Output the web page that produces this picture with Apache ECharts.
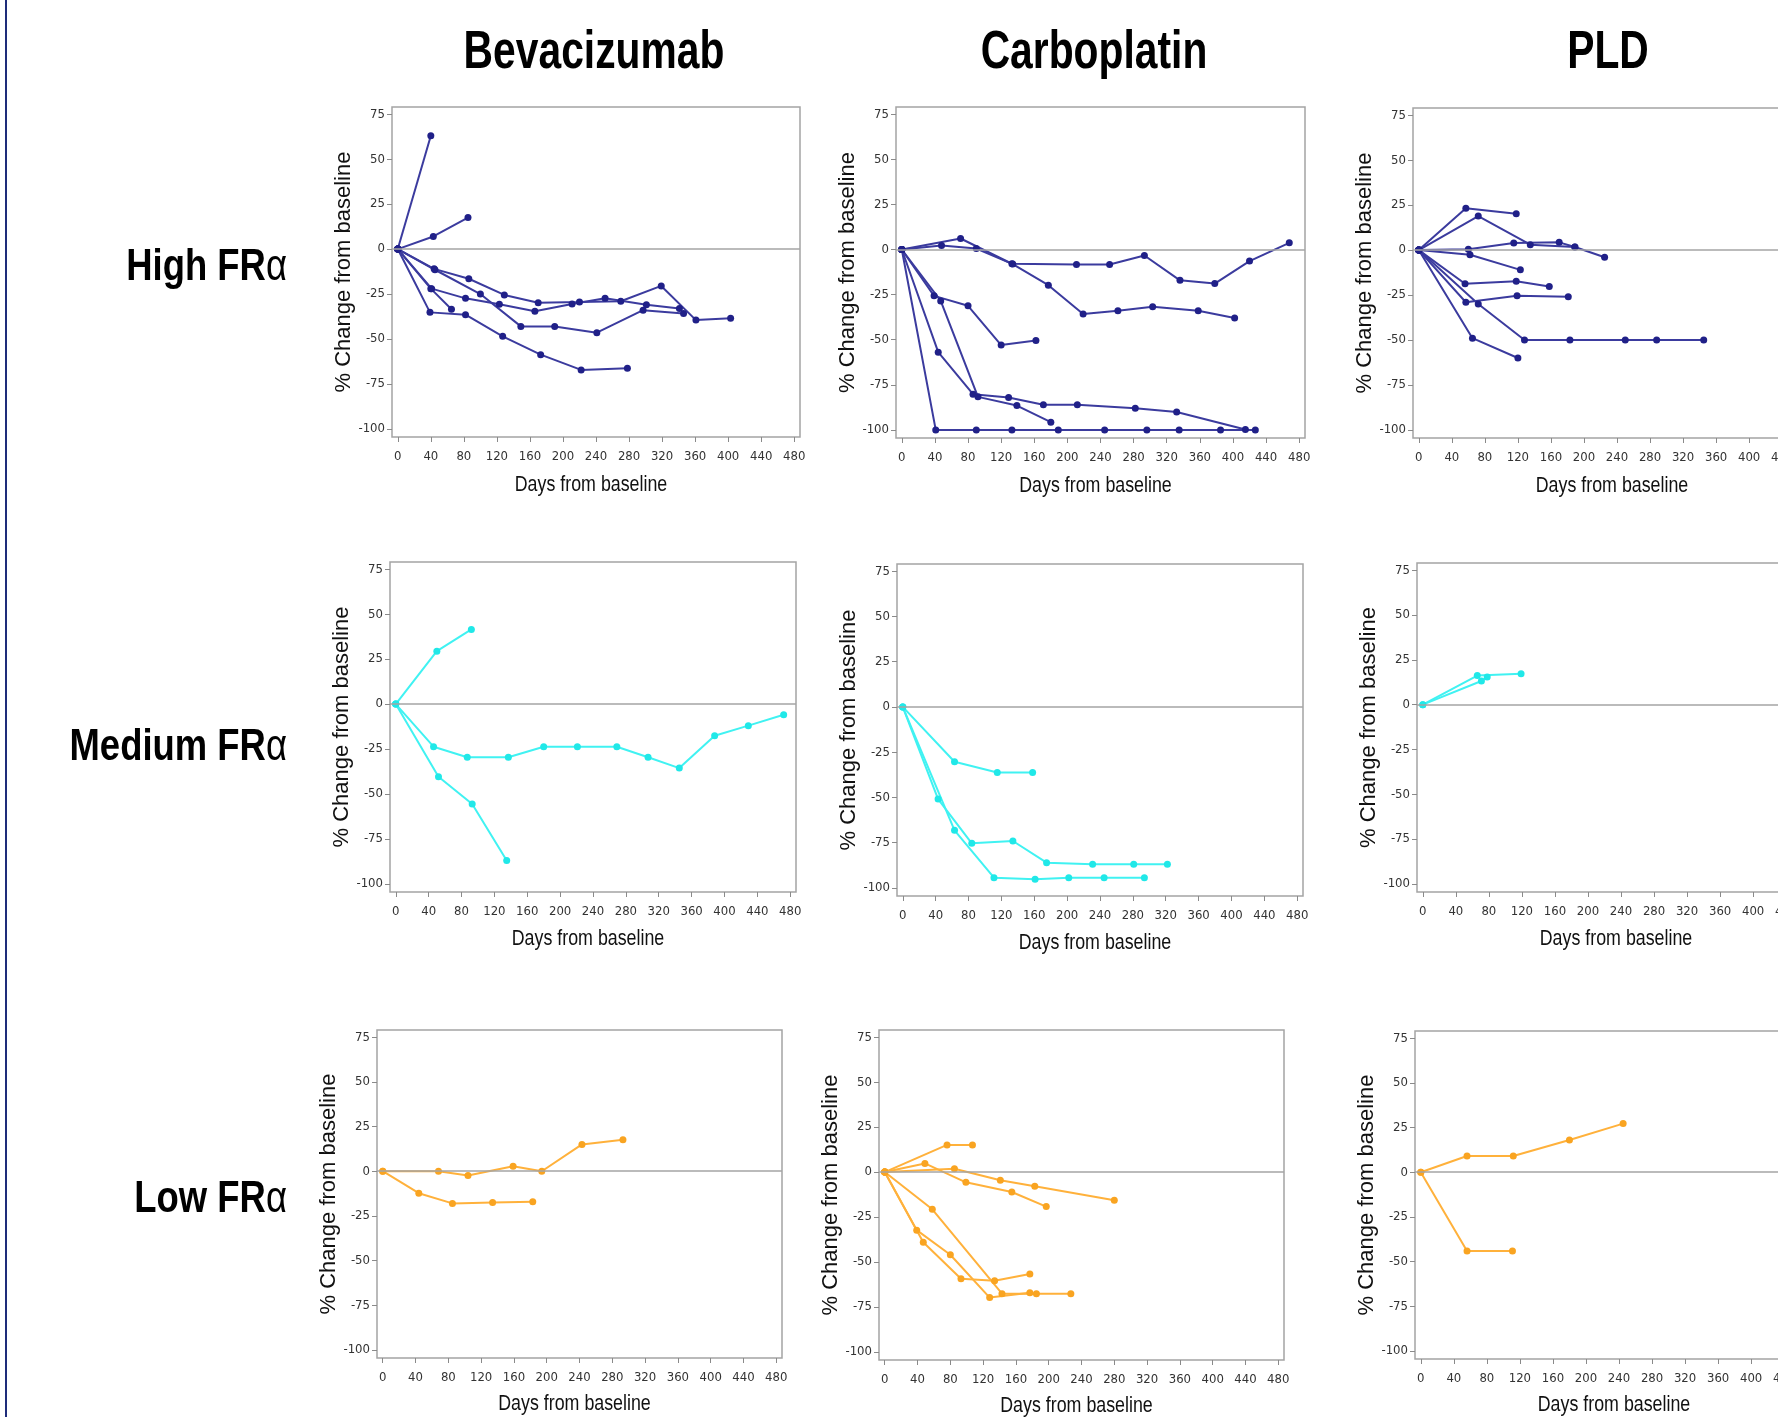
<!DOCTYPE html>
<html>
<head>
<meta charset="utf-8">
<title>FRα spider plots</title>
<script src="https://cdn.jsdelivr.net/npm/echarts@6/dist/echarts.min.js"></script>
<style>
  html, body { margin: 0; padding: 0; background: #fff; }
  #chart { width: 1778px; height: 1417px; }
</style>
</head>
<body>
<div id="chart"></div>
<script>
var drugs = ['Bevacizumab', 'Carboplatin', 'PLD'];
var levels = ['High FR', 'Medium FR', 'Low FR'];
var xTicks = [0, 40, 80, 120, 160, 200, 240, 280, 320, 360, 400, 440, 480];
var yTicks = [-100, -75, -50, -25, 0, 25, 50, 75];

// one array per patient: [day, % change]
var bevHigh = [
    [[0, 0], [40, 63]],
    [[0, 0], [43, 7], [85, 17.5]],
    [[0, 0], [44, -11], [86, -16.5], [129, -25.5], [170, -29.8], [220, -29.5], [270, -29], [319, -20.5], [361, -39.5], [403, -38.5]],
    [[0, 0], [45, -11.5], [100, -25], [149, -43], [190, -43], [241, -46.5], [297, -34], [346, -35.8]],
    [[0, 0], [41, -22], [82, -27.4], [123, -30.7], [166, -34.6], [211, -30.5], [251, -27.4], [301, -31], [341, -33]],
    [[0, 0], [40, -22], [65, -33.5]],
    [[0, 0], [39, -35.2], [82, -36.5], [127, -48.5], [173, -58.7], [222, -67.2], [278, -66.3]]
];
var carboHigh = [
    [[0, 0], [71, 6.1], [133, -7.9], [211, -8.3], [251, -8.3], [293, -3.3], [336, -17.1], [378, -18.9], [420, -6.4], [468, 3.7]],
    [[0, 0], [48, 2.2], [90, 0.5], [134, -8.1], [177, -19.8], [219, -35.8], [261, -34], [303, -31.8], [358, -34], [402, -38]],
    [[0, 0], [39, -25.7], [80, -31.2], [120, -53], [162, -50.5]],
    [[0, 0], [47, -28.5], [92, -81.7], [139, -86.5], [180, -95.7]],
    [[0, 0], [44, -56.9], [86, -80.2], [129, -82.1], [171, -86.1], [212, -86.1], [282, -88], [332, -90.1], [415, -99.8]],
    [[0, 0], [41, -100], [90, -100], [133, -100], [189, -100], [245, -100], [296, -100], [335, -100], [385, -100], [427, -100]]
];
var pldHigh = [
    [[0, 0], [57, 23.3], [118, 20.2]],
    [[0, 0], [72, 18.9], [135, 3], [189, 1.7], [225, -4]],
    [[0, 0], [60, 0.4], [115, 3.9], [170, 4.3], [189, 1.7]],
    [[0, 0], [62, -2.6], [123, -11]],
    [[0, 0], [56, -18.7], [118, -17.4], [158, -20.2]],
    [[0, 0], [57, -29], [119, -25.4], [181, -26]],
    [[0, 0], [72, -30], [128, -50], [183, -50], [250, -50], [288, -50], [345, -50]],
    [[0, 0], [65, -49], [120, -60]]
];
var bevMed = [
    [[0, 0], [50, 29.4], [92, 41.5]],
    [[0, 0], [46, -23.7], [87, -29.6], [137, -29.6], [180, -23.7], [221, -23.7], [269, -23.7], [307, -29.6], [345, -35.6], [388, -17.6], [429, -12], [472, -5.9]],
    [[0, 0], [52, -40.4], [93, -55.6], [135, -87]]
];
var carboMed = [
    [[0, 0], [63, -30.3], [115, -36.2], [158, -36.2]],
    [[0, 0], [43, -50.9], [84, -75.4], [134, -74.1], [175, -86.1], [231, -86.9], [281, -86.9], [322, -86.9]],
    [[0, 0], [63, -68.2], [111, -94.4], [161, -95.3], [202, -94.4], [245, -94.4], [294, -94.4]]
];
var pldMed = [
    [[0, 0], [66, 16.2], [119, 17.2]],
    [[0, 0], [71, 13.2], [78, 15.4]]
];
var bevLow = [
    [[0, 0], [44, -12.3], [85, -18], [134, -17.5], [183, -17.1]],
    [[0, 0], [68, 0], [104, -2.4], [159, 2.8], [194, 0], [243, 15], [293, 17.6]]
];
var carboLow = [
    [[0, 0], [76, 15.1], [107, 15.1]],
    [[0, 0], [49, 4.8], [99, -5.7], [155, -11.1], [197, -19.2]],
    [[0, 0], [85, 1.8], [141, -4.6], [183, -7.9], [280, -15.7]],
    [[0, 0], [58, -20.7], [143, -67.6], [185, -67.6], [227, -67.6]],
    [[0, 0], [39, -32.3], [80, -46], [128, -69.8], [177, -67.1]],
    [[0, 0], [47, -39], [93, -59.3], [134, -60.4], [177, -56.7]]
];
var pldLow = [
    [[0, 0], [56, 9.1], [112, 9.1], [180, 18], [245, 27.2]],
    [[0, 0], [56, -44.1], [111, -44.1]]
];

var panels = [bevHigh, carboHigh, pldHigh, bevMed, carboMed, pldMed, bevLow, carboLow, pldLow];

// plot boxes in pixels: left, top, width, height
var boxes = [
    [392, 107, 408, 330], [896, 107, 409, 331], [1413, 108, 408, 330],
    [390, 562, 406, 330], [897, 564, 406, 332], [1417, 563, 408, 329],
    [377, 1030, 405, 328], [879, 1030, 405, 330], [1415, 1031, 408, 328]
];
var lineColors = ['#3b3b9e', '#40f2f2', '#ffb13b'];
var dotColors = ['#202088', '#20e8e8', '#f9a421'];

var narrow = '"DejaVu Sans Condensed", "Liberation Sans", sans-serif';
var sans = '"Liberation Sans", Arial, sans-serif';

var chart = echarts.init(document.getElementById('chart'));

var grids = [], xAxes = [], yAxes = [], series = [];
var graphics = [{
    type: 'rect', shape: { x: 5, y: 0, width: 2, height: 1417 },
    style: { fill: '#1e2c7a' }
}];

for (var p = 0; p < panels.length; p++) {
    var b = boxes[p];
    var row = Math.floor(p / 3);
    grids.push({
        left: b[0], top: b[1], width: b[2], height: b[3],
        outerBoundsMode: 'none', containLabel: false,
        show: true, borderColor: '#a4a4a4', borderWidth: 1.5, backgroundColor: '#fff'
    });
    xAxes.push({
        type: 'value', gridIndex: p, min: -7, max: 487, position: 'bottom',
        axisLine: { show: false, onZero: false },
        axisTick: { show: true, length: 5, customValues: xTicks, lineStyle: { color: '#8a8a8a' } },
        axisLabel: { customValues: xTicks, margin: 13, fontFamily: narrow, fontSize: 13, color: '#333' },
        splitLine: { show: false }
    });
    yAxes.push({
        type: 'value', gridIndex: p, min: -104.5, max: 79, position: 'left',
        name: '% Change from baseline', nameLocation: 'middle', nameGap: 36,
        nameTextStyle: { fontFamily: sans, fontSize: 22, color: '#111' },
        axisLine: { show: false, onZero: false },
        axisTick: { show: true, length: 5, customValues: yTicks, lineStyle: { color: '#8a8a8a' } },
        axisLabel: { customValues: yTicks, margin: 7, fontFamily: narrow, fontSize: 13, color: '#333' },
        splitLine: { show: false }
    });

    // x axis title, squeezed like the source picture
    graphics.push({
        type: 'text', x: b[0] + b[2] / 2 - 5, y: b[1] + b[3] + 48 - row,
        scaleX: 0.81, scaleY: 1,
        style: {
            text: 'Days from baseline', font: '22px ' + sans, fill: '#111',
            align: 'center', verticalAlign: 'middle', textAlign: 'center', textVerticalAlign: 'middle'
        }
    });

    // reference line at 0
    series.push({
        type: 'line', xAxisIndex: p, yAxisIndex: p, data: [[0, 0]],
        showSymbol: false, lineStyle: { width: 0 }, z: 1, silent: true,
        markLine: {
            silent: true, symbol: 'none', label: { show: false },
            lineStyle: { color: '#a4a4a4', width: 1.6, type: 'solid' },
            data: [{ yAxis: 0 }]
        }
    });

    var patients = panels[p];
    for (var i = 0; i < patients.length; i++) {
        series.push({
            type: 'line', xAxisIndex: p, yAxisIndex: p, z: 3,
            data: patients[i],
            symbol: 'circle', symbolSize: 7,
            lineStyle: { color: lineColors[row], width: 2 },
            itemStyle: { color: dotColors[row] }
        });
    }
}

var titleX = [594, 1094, 1608];
for (var c = 0; c < drugs.length; c++) {
    graphics.push({
        type: 'text', x: titleX[c], y: 53, scaleX: 0.77, scaleY: 1,
        style: {
            text: drugs[c], font: 'bold 53px ' + sans, fill: '#000',
            align: 'center', verticalAlign: 'middle', textAlign: 'center', textVerticalAlign: 'middle'
        }
    });
}
var levelY = [268, 748, 1200];
for (var r = 0; r < levels.length; r++) {
    graphics.push({
        type: 'text', x: 287, y: levelY[r], scaleX: 0.81, scaleY: 1,
        style: {
            text: '{b|' + levels[r] + '}{a|α}',
            align: 'right', verticalAlign: 'middle', textAlign: 'right', textVerticalAlign: 'middle',
            rich: {
                b: { font: 'bold 45px ' + sans, fill: '#000', color: '#000' },
                a: { font: '45px ' + sans, fill: '#000', color: '#000' }
            }
        }
    });
}

chart.setOption({
    animation: false,
    backgroundColor: '#fff',
    grid: grids,
    xAxis: xAxes,
    yAxis: yAxes,
    series: series,
    graphic: graphics
});
</script>
</body>
</html>
